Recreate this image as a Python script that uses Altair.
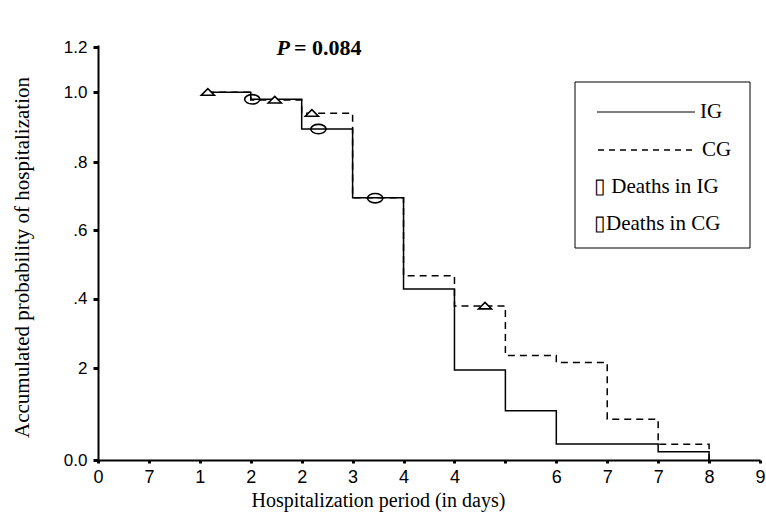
import json
import altair as alt
import pandas as pd

# ---- data ----
days_ig = [15, 21, 28, 35, 42, 49, 56, 63, 77, 84]
surv_ig = [1.0, 0.981, 0.90, 0.713, 0.465, 0.245, 0.134, 0.0435, 0.0226, 0.0]
days_cg = [15, 21, 28, 35, 42, 49, 56, 63, 70, 77, 84]
surv_cg = [1.0, 0.979, 0.943, 0.713, 0.501, 0.419, 0.284, 0.265, 0.111, 0.043, 0.0]

death_ig_days = [21.2, 30.3, 38.1]
death_ig_surv = [0.981, 0.90, 0.712]
death_cg_days = [15.1, 24.3, 29.4, 53.2]
death_cg_surv = [1.0, 0.979, 0.943, 0.419]

x_tick_values = [0, 7, 14, 21, 28, 35, 42, 49, 56, 63, 70, 77, 84, 91]
x_tick_labels = ["0", "7", "1", "2", "2", "3", "4", "4", "", "6", "7", "7", "8", "9"]
y_tick_values = [0.0, 0.25, 0.438, 0.625, 0.81, 1.0, 1.123]
y_tick_labels = ["0.0", "2", ".4", ".6", ".8", "1.0", "1.2"]

X_MAX = 91
Y_MAX = 1.1287

ig = pd.DataFrame({"day": days_ig, "p": surv_ig})
cg = pd.DataFrame({"day": days_cg, "p": surv_cg})
dig = pd.DataFrame({"day": death_ig_days, "p": death_ig_surv})
dcg = pd.DataFrame({"day": death_cg_days, "p": death_cg_surv})

x_label_expr = json.dumps(x_tick_labels) + "[round(datum.value/7)]"
y_label_expr = ""
for v, l in zip(y_tick_values, y_tick_labels):
    y_label_expr += f"abs(datum.value-{v})<0.001 ? {json.dumps(l)} : "
y_label_expr += "''"

xs = alt.Scale(domain=[0, X_MAX], nice=False, zero=False)
ys = alt.Scale(domain=[0, Y_MAX], nice=False, zero=False)

x_axis = alt.Axis(
    values=x_tick_values, labelExpr=x_label_expr, grid=False,
    domainColor="black", domainWidth=2, tickColor="black", tickSize=3, tickWidth=3,
    labelFont="Liberation Sans", labelFontSize=18, labelColor="black", labelPadding=5,
    labelFlush=False, labelOverlap=False,
    title="Hospitalization period (in days)", titleFont="Liberation Serif",
    titleFontSize=20, titleFontWeight="normal", titleColor="black",
    titleX=280, titleY=40, titleBaseline="middle", titleAnchor="middle",
)
y_axis = alt.Axis(
    values=y_tick_values, labelExpr=y_label_expr, grid=False,
    domainColor="black", domainWidth=2, tickColor="black", tickSize=5, tickWidth=3,
    labelFont="Liberation Sans", labelFontSize=17, labelColor="black", labelPadding=6,
    labelFlush=False, labelOverlap=False,
    title="Accumulated probability of hospitalization", titleFont="Liberation Serif",
    titleFontSize=21, titleFontWeight="normal", titleColor="black",
    titleX=-76, titleY=212, titleAngle=-90, titleBaseline="middle", titleAlign="center",
)

cg_line = alt.Chart(cg).mark_line(
    interpolate="step-after", color="black", strokeWidth=1.5, strokeDash=[7, 5]
).encode(x=alt.X("day:Q", scale=xs, axis=x_axis), y=alt.Y("p:Q", scale=ys, axis=y_axis))

ig_line = alt.Chart(ig).mark_line(
    interpolate="step-after", color="black", strokeWidth=1.5
).encode(x=alt.X("day:Q", scale=xs), y=alt.Y("p:Q", scale=ys))

ellipse = "M -1 0 A 1 0.62 0 1 0 1 0 A 1 0.62 0 1 0 -1 0 Z"
triangle = "M -1 0.45 L 1 0.45 L 0 -0.55 Z"

ig_deaths = alt.Chart(dig).mark_point(
    shape=ellipse, size=230, filled=False, color="black", strokeWidth=1.6, opacity=1
).encode(x=alt.X("day:Q", scale=xs), y=alt.Y("p:Q", scale=ys))

cg_deaths = alt.Chart(dcg).mark_point(
    shape=triangle, size=170, filled=True, fill="white", stroke="black", strokeWidth=1.6, opacity=1
).encode(x=alt.X("day:Q", scale=xs), y=alt.Y("p:Q", scale=ys))

one = pd.DataFrame({"a": [0]})
serif = "Liberation Serif"

p_letter = alt.Chart(one).mark_text(
    text="P", font=serif, fontSize=22, fontWeight="bold", fontStyle="italic",
    align="right", baseline="alphabetic", color="black"
).encode(x=alt.value(192), y=alt.value(10))
p_value = alt.Chart(one).mark_text(
    text="= 0.084", font=serif, fontSize=22, fontWeight="bold",
    align="left", baseline="alphabetic", color="black"
).encode(x=alt.value(196), y=alt.value(10))

legend_box = alt.Chart(one).mark_rect(
    fill="white", stroke="black", strokeWidth=1
).encode(x=alt.value(477), x2=alt.value(652), y=alt.value(37), y2=alt.value(203))

leg_ig_line = alt.Chart(one).mark_rule(color="black", strokeWidth=1).encode(
    x=alt.value(499), x2=alt.value(597), y=alt.value(67))
leg_cg_line = alt.Chart(one).mark_rule(color="black", strokeWidth=1.5, strokeDash=[6, 5]).encode(
    x=alt.value(500), x2=alt.value(596), y=alt.value(105))

def leg_text(t, x, y):
    return alt.Chart(one).mark_text(
        text=t, font=serif, fontSize=21, align="left", baseline="middle", color="black"
    ).encode(x=alt.value(x), y=alt.value(y))

legend = [
    legend_box, leg_ig_line, leg_cg_line,
    leg_text("IG", 602, 67),
    leg_text("CG", 604, 105),
    leg_text("\u25af  Deaths in IG", 496, 142),
    leg_text("\u25afDeaths in CG", 496, 179),
]

chart = alt.layer(
    cg_line, ig_line, ig_deaths, cg_deaths, p_letter, p_value, *legend
).properties(
    width=662, height=415,
    padding={"left": 98, "top": 45, "right": 6, "bottom": 55},
    autosize="none", background="white",
).configure_view(stroke=None)

chart.save("out.html", embed_options={"renderer": "svg", "actions": False})
